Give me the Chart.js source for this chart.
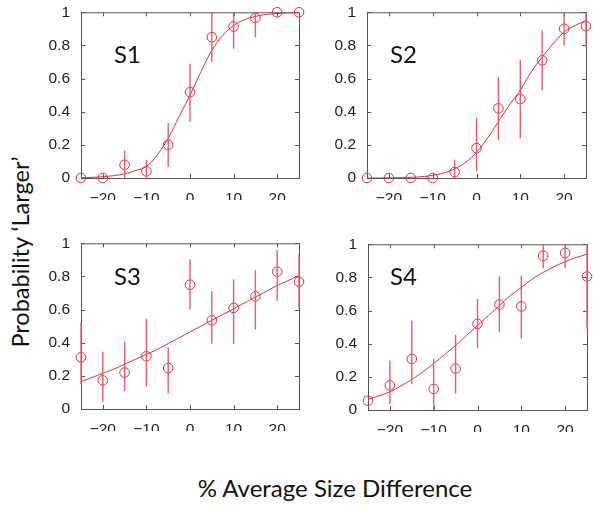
<!DOCTYPE html>
<html>
<head>
<meta charset="utf-8">
<script src="https://cdn.jsdelivr.net/npm/chart.js@4/dist/chart.umd.min.js"></script>
<style>
  body { margin: 0; background: #fff; }
  #wrap { position: relative; width: 600px; height: 507px; overflow: hidden; background: #fff; }
  canvas { position: absolute; }
  .lbl { position: absolute; font-family: Lato, "Open Sans", sans-serif; color: #111; white-space: nowrap; }
  .subj { font-size: 24px; }
</style>
</head>
<body>
<div id="wrap">
  <canvas id="c1" width="270" height="200" style="left:40px;top:0px"></canvas>
  <canvas id="c2" width="270" height="200" style="left:326px;top:0px"></canvas>
  <canvas id="c3" width="270" height="200" style="left:40px;top:231px"></canvas>
  <canvas id="c4" width="270" height="200" style="left:327px;top:232px"></canvas>
  <div class="lbl subj" style="left:114px;top:39px">S1</div>
  <div class="lbl subj" style="left:390px;top:39px">S2</div>
  <div class="lbl subj" style="left:114px;top:261px">S3</div>
  <div class="lbl subj" style="left:390px;top:261px">S4</div>
  <div class="lbl" style="font-size:23.5px;left:20px;top:252px;transform:translate(-50%,-50%) rotate(-90deg)">Probability ‘Larger’</div>
  <div class="lbl" style="font-size:24px;left:335px;top:487px;transform:translate(-50%,-50%)">% Average Size Difference</div>
</div>
<script>
// size differences (%) where each subject was tested
const sizeDiff = [-25, -20, -15, -10, -5, 0, 5, 10, 15, 20, 25];
const xTicks = [-20, -10, 0, 10, 20];
const yTicks = [0, 0.2, 0.4, 0.6, 0.8, 1];

// observed proportions + error bar ends
const s1Mean = [0, 0, 0.08, 0.04, 0.2, 0.518, 0.85, 0.914, 0.966, 1, 1];
const s1Lo   = [0, 0, 0, 0, 0.066, 0.34, 0.70, 0.78, 0.85, 1, 1];
const s1Hi   = [0, 0, 0.165, 0.11, 0.33, 0.69, 1, 1, 1, 1, 1];

const s2Mean = [0, 0, 0, 0, 0.036, 0.18, 0.42, 0.476, 0.71, 0.90, 0.916];
const s2Lo   = [0, 0, 0, 0, 0, 0.04, 0.23, 0.24, 0.53, 0.80, 0.79];
const s2Hi   = [0, 0, 0, 0, 0.11, 0.36, 0.61, 0.71, 0.89, 1, 1];

const s3Mean = [0.312, 0.173, 0.22, 0.318, 0.247, 0.75, 0.535, 0.61, 0.68, 0.829, 0.768];
const s3Lo   = [0.15, 0.044, 0.109, 0.135, 0.093, 0.60, 0.394, 0.392, 0.48, 0.652, 0.60];
const s3Hi   = [0.52, 0.346, 0.406, 0.543, 0.372, 0.903, 0.712, 0.783, 0.839, 0.96, 0.93];

const s4Mean = [0.056, 0.149, 0.308, 0.127, 0.25, 0.52, 0.637, 0.625, 0.93, 0.948, 0.806];
const s4Lo   = [0.056, 0.036, 0.157, 0, 0.10, 0.373, 0.47, 0.43, 0.855, 0.857, 0.49];
const s4Hi   = [0.056, 0.298, 0.54, 0.31, 0.454, 0.67, 0.806, 0.81, 1, 1, 1];

// fitted curves
const fitX  = [-25, -22.5, -20, -17.5, -15, -12.5, -10, -7.5, -5, -2.5, 0, 2.5, 5, 7.5, 10, 12.5, 15, 17.5, 20, 22.5, 25];
const s1Fit = [0.002, 0.004, 0.008, 0.014, 0.025, 0.045, 0.07, 0.14, 0.24, 0.37, 0.5, 0.64, 0.77, 0.86, 0.92, 0.955, 0.975, 0.987, 0.993, 0.997, 0.999];
const s2Fit = [0, 0, 0.001, 0.002, 0.004, 0.008, 0.016, 0.03, 0.055, 0.095, 0.155, 0.24, 0.34, 0.44, 0.53, 0.64, 0.73, 0.81, 0.88, 0.92, 0.95];
const s3Fit = [0.165, 0.19, 0.215, 0.24, 0.27, 0.30, 0.33, 0.36, 0.395, 0.43, 0.465, 0.50, 0.535, 0.57, 0.605, 0.64, 0.675, 0.71, 0.745, 0.775, 0.805];
const s4Fit = [0.065, 0.085, 0.11, 0.145, 0.185, 0.23, 0.28, 0.335, 0.39, 0.45, 0.51, 0.57, 0.63, 0.69, 0.74, 0.79, 0.83, 0.865, 0.895, 0.92, 0.94];

const RED = "#e02a3a";
const BAR_RED = "#ea5c6c";
const AXIS = "#555";

// box + inward ticks like matlab, then the error bars
const framePlugin = {
  id: "frame",
  beforeDatasetsDraw(chart) {
    const { ctx, chartArea: a, scales } = chart;
    ctx.save();
    ctx.strokeStyle = AXIS;
    ctx.lineWidth = 1;
    ctx.strokeRect(a.left + 0.5, a.top + 0.5, a.right - a.left, a.bottom - a.top);
    ctx.beginPath();
    xTicks.forEach((v) => {
      const px = Math.round(scales.x.getPixelForValue(v)) + 0.5;
      ctx.moveTo(px, a.bottom); ctx.lineTo(px, a.bottom - 4);
      ctx.moveTo(px, a.top); ctx.lineTo(px, a.top + 4);
    });
    yTicks.forEach((v) => {
      const py = Math.round(scales.y.getPixelForValue(v)) + 0.5;
      ctx.moveTo(a.left, py); ctx.lineTo(a.left + 4, py);
      ctx.moveTo(a.right, py); ctx.lineTo(a.right - 4, py);
    });
    ctx.stroke();
    ctx.restore();
  },
  afterDatasetsDraw(chart) {
    const eb = chart.options.plugins.frame;
    if (!eb) return;
    const { ctx, scales } = chart;
    ctx.save();
    ctx.strokeStyle = BAR_RED;
    ctx.lineWidth = 1.4;
    ctx.beginPath();
    sizeDiff.forEach((x, i) => {
      if (eb.hi[i] === eb.lo[i]) return;
      const px = scales.x.getPixelForValue(x);
      ctx.moveTo(px, scales.y.getPixelForValue(eb.lo[i]));
      ctx.lineTo(px, scales.y.getPixelForValue(eb.hi[i]));
    });
    ctx.stroke();
    ctx.restore();
  },
};

const tickFont = { family: "Liberation Sans", size: 15.5 };

function makePanel(id, mean, lo, hi, fit, padRight) {
  new Chart(document.getElementById(id), {
    type: "scatter",
    data: {
      datasets: [
        {
          data: sizeDiff.map((x, i) => ({ x, y: mean[i] })),
          pointStyle: "circle", pointRadius: 4.8, pointBorderWidth: 1,
          borderColor: RED, backgroundColor: "rgba(0,0,0,0)", clip: false,
        },
        {
          type: "line",
          data: fitX.map((x, i) => ({ x, y: fit[i] })),
          borderColor: RED, borderWidth: 1, pointRadius: 0, tension: 0.4, fill: false,
        },
      ],
    },
    options: {
      responsive: false, animation: false, devicePixelRatio: 1,
      layout: { padding: { top: 12, right: padRight, left: 0, bottom: 0 } },
      plugins: { legend: { display: false }, tooltip: { enabled: false }, frame: { lo, hi } },
      scales: {
        x: {
          type: "linear", min: -25, max: 25,
          grid: { display: false }, border: { display: false },
          afterBuildTicks: (s) => { s.ticks = xTicks.map((v) => ({ value: v })); },
          afterFit: (s) => { s.height = 22; },
          ticks: { color: "#222", padding: 3, font: tickFont,
                   callback: (v) => String(v).replace("-", "\u2212") },
        },
        y: {
          min: 0, max: 1,
          grid: { display: false }, border: { display: false },
          afterBuildTicks: (s) => { s.ticks = yTicks.map((v) => ({ value: v })); },
          afterFit: (s) => { s.width = 41; },
          ticks: { color: "#222", padding: 3, font: tickFont, callback: (v) => String(v) },
        },
      },
    },
    plugins: [framePlugin],
  });
}

makePanel("c1", s1Mean, s1Lo, s1Hi, s1Fit, 11);
makePanel("c2", s2Mean, s2Lo, s2Hi, s2Fit, 10);
makePanel("c3", s3Mean, s3Lo, s3Hi, s3Fit, 11);
makePanel("c4", s4Mean, s4Lo, s4Hi, s4Fit, 10);
</script>
</body>
</html>
